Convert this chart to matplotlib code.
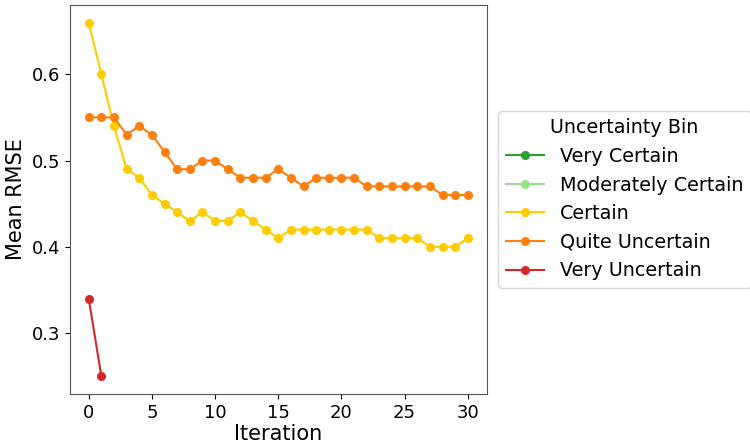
import numpy as np
import matplotlib
matplotlib.use("Agg")
import matplotlib.pyplot as plt

# data
iterations = list(range(31))
bins = ["Very Certain", "Moderately Certain", "Certain", "Quite Uncertain", "Very Uncertain"]
colors = ["#2ca02c", "#98df8a", "#ffcc00", "#ff7f0e", "#d62728"]

very_certain = []
moderately_certain = []
certain = [0.66, 0.60, 0.54, 0.49, 0.48, 0.46, 0.45, 0.44, 0.43, 0.44, 0.43,
           0.43, 0.44, 0.43, 0.42, 0.41, 0.42, 0.42, 0.42, 0.42, 0.42, 0.42,
           0.42, 0.41, 0.41, 0.41, 0.41, 0.40, 0.40, 0.40, 0.41]
quite_uncertain = [0.55, 0.55, 0.55, 0.53, 0.54, 0.53, 0.51, 0.49, 0.49, 0.50, 0.50,
                   0.49, 0.48, 0.48, 0.48, 0.49, 0.48, 0.47, 0.48, 0.48, 0.48, 0.48,
                   0.47, 0.47, 0.47, 0.47, 0.47, 0.47, 0.46, 0.46, 0.46]
very_uncertain = [0.34, 0.25]

series = [very_certain, moderately_certain, certain, quite_uncertain, very_uncertain]

fig = plt.figure(figsize=(7.5, 4.44), dpi=100)
ax = fig.add_axes([0.093, 0.113, 0.556, 0.876])

for name, col, vals in zip(bins, colors, series):
    ax.plot(iterations[:len(vals)], vals, marker="o", markersize=5.5, color=col, label=name)

ax.set_xlabel("Iteration", fontsize=15, labelpad=2)
ax.set_ylabel("Mean RMSE", fontsize=15)
ax.tick_params(labelsize=13)
ax.set_xticks([0, 5, 10, 15, 20, 25, 30])
ax.set_yticks([0.3, 0.4, 0.5, 0.6])
for s in ax.spines.values():
    s.set_color("#555555")

leg = ax.legend(title="Uncertainty Bin", loc="center left", bbox_to_anchor=(1.005, 0.5),
                fontsize=13.8, title_fontsize=13.8)

fig.savefig("out.png", dpi=100)
